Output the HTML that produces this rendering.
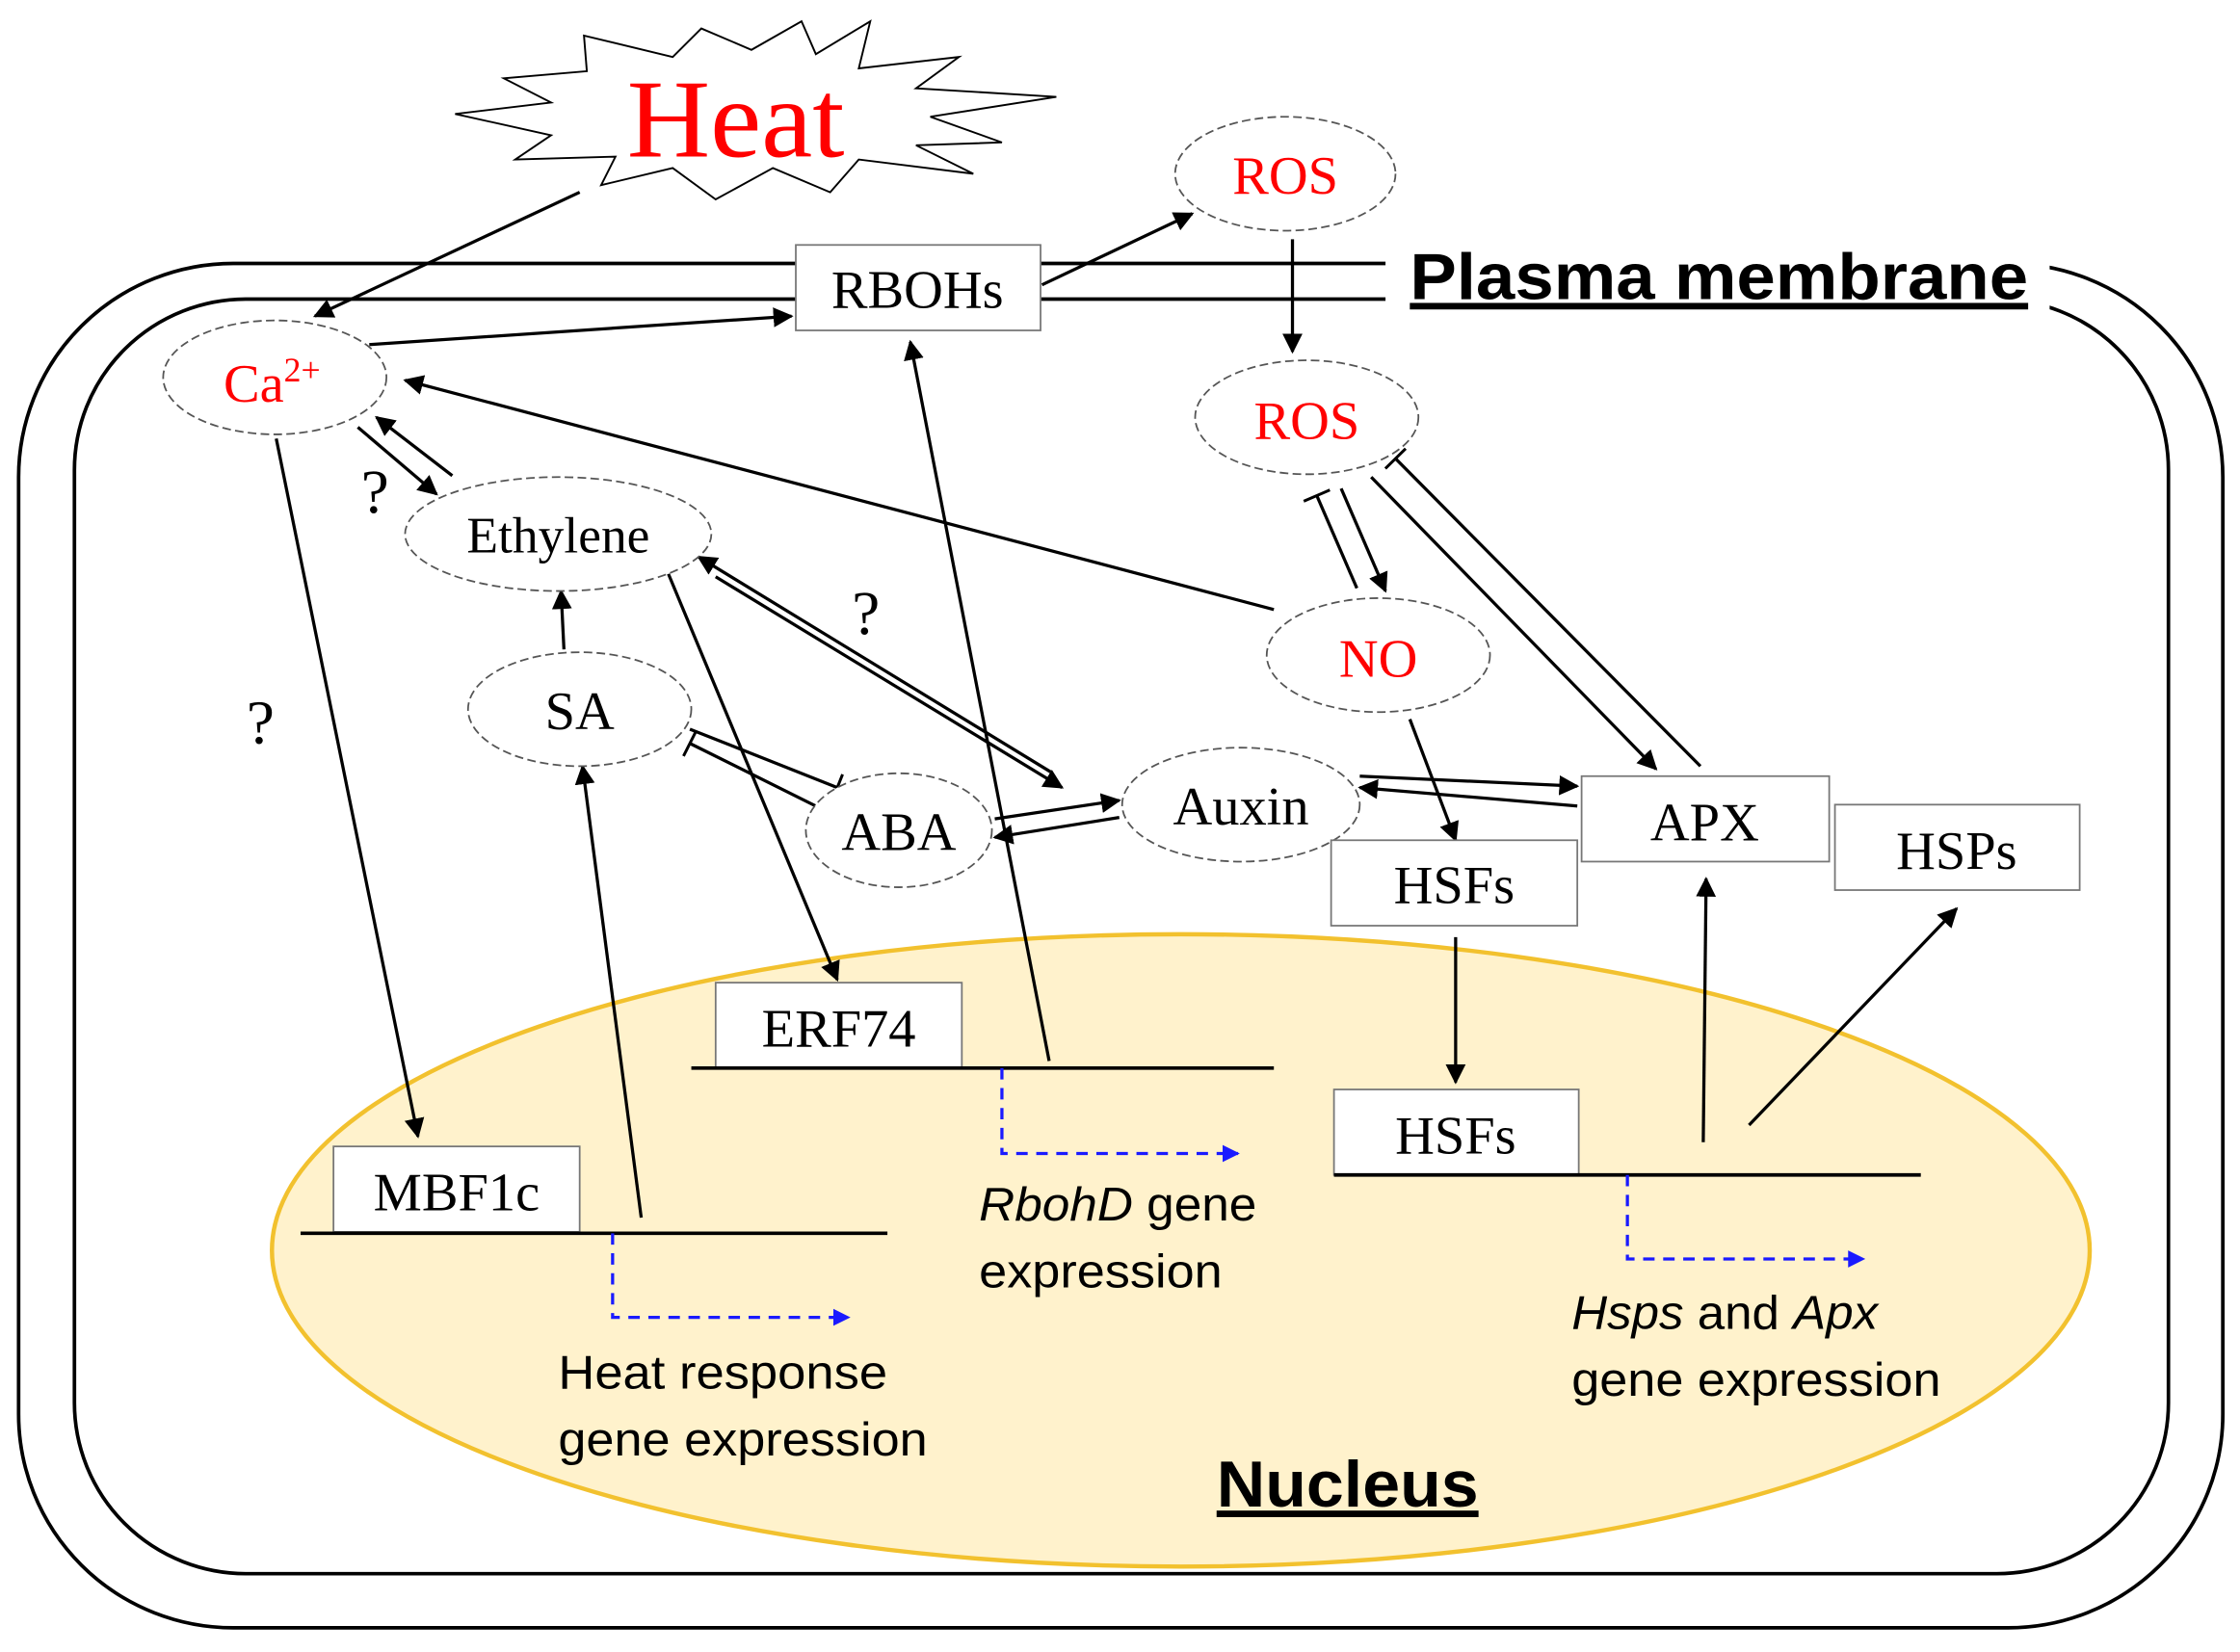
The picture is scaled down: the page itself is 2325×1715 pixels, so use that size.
<!DOCTYPE html>
<html><head><meta charset="utf-8"><style>html,body{margin:0;padding:0;background:#fff}svg{display:block}</style></head>
<body>
<svg width="2325" height="1715" viewBox="0 0 1565 1160" preserveAspectRatio="none" xmlns="http://www.w3.org/2000/svg">
<defs>
<marker id="a2" viewBox="0 0 10 10" refX="9" refY="5" markerWidth="14" markerHeight="14" orient="auto" markerUnits="userSpaceOnUse"><path d="M0,0L10,5L0,10z" fill="#000"/></marker>
<marker id="b" viewBox="0 0 10 10" refX="9" refY="5" markerWidth="12" markerHeight="12" orient="auto" markerUnits="userSpaceOnUse"><path d="M0,0L10,5L0,10z" fill="#1a1aff"/></marker>
<marker id="t" viewBox="0 0 4 20" refX="2" refY="10" markerWidth="4" markerHeight="20" orient="auto" markerUnits="userSpaceOnUse"><path d="M2,0V20" stroke="#000" stroke-width="2"/></marker>
</defs>
<g fill="none" stroke="#000" stroke-width="2.5">
<rect x="13" y="185" width="1540" height="958" rx="150"/>
<rect x="52" y="210" width="1463" height="895" rx="120"/>
</g>
<rect x="968" y="170" width="464" height="60" fill="#fff"/>
<ellipse cx="825" cy="878" rx="635" ry="222" fill="#fff2cc" stroke="#f2c12e" stroke-width="3"/>
<polygon points="318,80 385,72 352,55 410,50 408,25 470,40 490,20 525,35 560,15 570,38 608,15 600,48 670,40 640,62 738,68 650,82 700,100 640,102 680,122 600,112 580,135 540,118 500,140 470,118 420,130 430,110 360,112 385,95" fill="#fff" stroke="#000" stroke-width="1.3"/>
<text x="438" y="110" textLength="152" lengthAdjust="spacingAndGlyphs" font-family="Liberation Serif,serif" font-size="78" fill="#f00">Heat</text>
<g stroke="#000" stroke-width="2.2" fill="none">
<line x1="405" y1="135" x2="220" y2="222" marker-end="url(#a2)"/>
<line x1="258" y1="242" x2="553" y2="222" marker-end="url(#a2)"/>
<line x1="728" y1="200" x2="833" y2="150" marker-end="url(#a2)"/>
<line x1="903" y1="168" x2="903" y2="247" marker-end="url(#a2)"/>
<line x1="193" y1="308" x2="292" y2="798" marker-end="url(#a2)"/>
<line x1="250" y1="300" x2="305" y2="347" marker-end="url(#a2)"/>
<line x1="316" y1="334" x2="263" y2="293" marker-end="url(#a2)"/>
<line x1="890" y1="428" x2="283" y2="267" marker-end="url(#a2)"/>
<line x1="733" y1="745" x2="636" y2="240" marker-end="url(#a2)"/>
<line x1="467" y1="403" x2="585" y2="688" marker-end="url(#a2)"/>
<line x1="394" y1="456" x2="392" y2="415" marker-end="url(#a2)"/>
<line x1="500" y1="405" x2="742" y2="553" marker-end="url(#a2)"/>
<line x1="734" y1="542" x2="488" y2="391" marker-end="url(#a2)"/>
<line x1="482" y1="512" x2="585" y2="553" marker-end="url(#t)"/>
<line x1="570" y1="566" x2="482" y2="522" marker-end="url(#t)"/>
<line x1="695" y1="575" x2="782" y2="562" marker-end="url(#a2)"/>
<line x1="782" y1="574" x2="695" y2="588" marker-end="url(#a2)"/>
<line x1="948" y1="413" x2="920" y2="348" marker-end="url(#t)"/>
<line x1="937" y1="343" x2="968" y2="415" marker-end="url(#a2)"/>
<line x1="958" y1="335" x2="1157" y2="540" marker-end="url(#a2)"/>
<line x1="1188" y1="538" x2="975" y2="322" marker-end="url(#t)"/>
<line x1="950" y1="545" x2="1102" y2="552" marker-end="url(#a2)"/>
<line x1="1102" y1="566" x2="950" y2="553" marker-end="url(#a2)"/>
<line x1="985" y1="505" x2="1017" y2="590" marker-end="url(#a2)"/>
<line x1="1017" y1="658" x2="1017" y2="760" marker-end="url(#a2)"/>
<line x1="1190" y1="802" x2="1192" y2="617" marker-end="url(#a2)"/>
<line x1="1222" y1="790" x2="1367" y2="638" marker-end="url(#a2)"/>
<line x1="448" y1="855" x2="407" y2="538" marker-end="url(#a2)"/>
</g>
<g fill="#fff" stroke="#555" stroke-width="1.2" stroke-dasharray="6,3">
<ellipse cx="898" cy="122" rx="77" ry="40"/>
<ellipse cx="192" cy="265" rx="78" ry="40"/>
<ellipse cx="913" cy="293" rx="78" ry="40"/>
<ellipse cx="390" cy="375" rx="107" ry="40"/>
<ellipse cx="963" cy="460" rx="78" ry="40"/>
<ellipse cx="405" cy="498" rx="78" ry="40"/>
<ellipse cx="628" cy="583" rx="65" ry="40"/>
<ellipse cx="867" cy="565" rx="83" ry="40"/>
</g>
<g fill="#fff" stroke="#777" stroke-width="1.2">
<rect x="556" y="172" width="171" height="60"/>
<rect x="1105" y="545" width="173" height="60"/>
<rect x="1282" y="565" width="171" height="60"/>
<rect x="930" y="590" width="172" height="60"/>
<rect x="500" y="690" width="172" height="60"/>
<rect x="233" y="805" width="172" height="60"/>
<rect x="932" y="765" width="171" height="60"/>
</g>
<g stroke="#000" stroke-width="2.5">
<line x1="483" y1="750" x2="890" y2="750"/>
<line x1="210" y1="866" x2="620" y2="866"/>
<line x1="932" y1="825" x2="1342" y2="825"/>
</g>
<g fill="none" stroke="#1a1aff" stroke-width="2.2" stroke-dasharray="8,6">
<polyline points="428,866 428,925 593,925" marker-end="url(#b)"/>
<polyline points="700,750 700,810 865,810" marker-end="url(#b)"/>
<polyline points="1137,825 1137,884 1302,884" marker-end="url(#b)"/>
</g>
<g font-family="Liberation Serif,serif" font-size="38" text-anchor="middle" fill="#000">
<text x="898" y="136" fill="#f00">ROS</text>
<text x="913" y="308" fill="#f00">ROS</text>
<text x="963" y="475" fill="#f00">NO</text>
<text x="190" y="282" fill="#f00">Ca<tspan font-size="24" dy="-14">2+</tspan></text>
<text x="641" y="216">RBOHs</text>
<text x="390" y="388" font-size="36">Ethylene</text>
<text x="405" y="512">SA</text>
<text x="628" y="597">ABA</text>
<text x="867" y="579">Auxin</text>
<text x="1191" y="590">APX</text>
<text x="1367" y="610">HSPs</text>
<text x="1016" y="634">HSFs</text>
<text x="586" y="735">ERF74</text>
<text x="319" y="850">MBF1c</text>
<text x="1017" y="810">HSFs</text>
<text x="262" y="360" font-size="44">?</text>
<text x="605" y="445" font-size="44">?</text>
<text x="182" y="522" font-size="44">?</text>
</g>
<g font-family="Liberation Sans,sans-serif" font-size="33" fill="#000" lengthAdjust="spacingAndGlyphs">
<text x="390" y="975" textLength="230" lengthAdjust="spacingAndGlyphs">Heat response</text>
<text x="390" y="1022" textLength="258" lengthAdjust="spacingAndGlyphs">gene expression</text>
<text x="684" y="857" textLength="194" lengthAdjust="spacingAndGlyphs"><tspan font-style="italic">RbohD</tspan> gene</text>
<text x="684" y="904" textLength="170" lengthAdjust="spacingAndGlyphs">expression</text>
<text x="1098" y="933" textLength="214" lengthAdjust="spacingAndGlyphs"><tspan font-style="italic">Hsps</tspan> and <tspan font-style="italic">Apx</tspan></text>
<text x="1098" y="980" textLength="258" lengthAdjust="spacingAndGlyphs">gene expression</text>
<text x="985" y="210" font-size="46" font-weight="bold" text-decoration="underline" textLength="432" lengthAdjust="spacingAndGlyphs">Plasma membrane</text>
<text x="850" y="1058" font-size="46" font-weight="bold" text-decoration="underline" textLength="183" lengthAdjust="spacingAndGlyphs">Nucleus</text>
</g>
</svg>
</body></html>
